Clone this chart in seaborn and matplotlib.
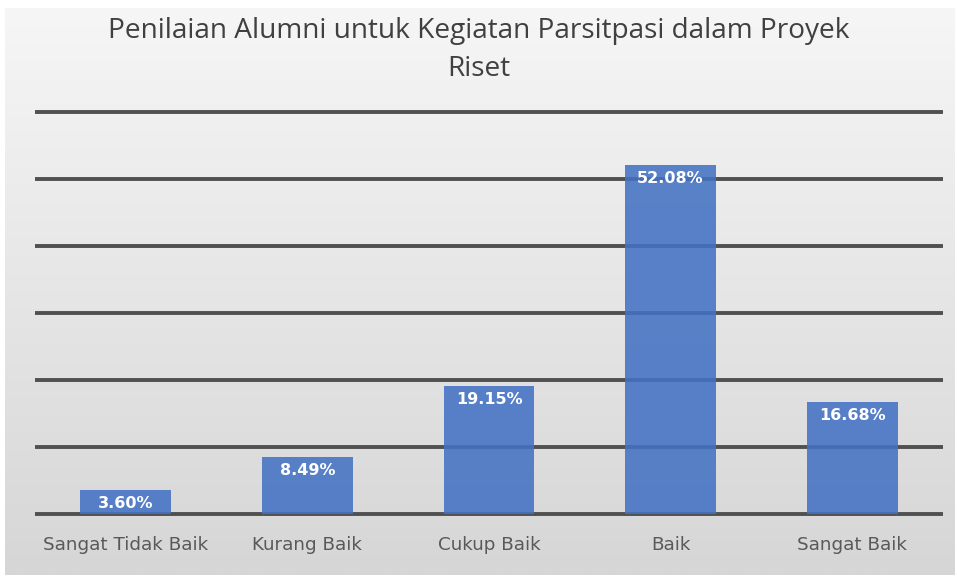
import numpy as np
import pandas as pd
import matplotlib
matplotlib.use("Agg")
import matplotlib.pyplot as plt
import seaborn as sns
from matplotlib.colors import LinearSegmentedColormap

categories = ["Sangat Tidak Baik", "Kurang Baik", "Cukup Baik", "Baik", "Sangat Baik"]
values = [3.60, 8.49, 19.15, 52.08, 16.68]
labels = ["3.60%", "8.49%", "19.15%", "52.08%", "16.68%"]
title = "Penilaian Alumni untuk Kegiatan Parsitpasi dalam Proyek\nRiset"

df = pd.DataFrame({"cat": categories, "val": values})

sns.set_style("white")
W, H = 957, 579
fig = plt.figure(figsize=(W / 100, H / 100), dpi=100, facecolor="white")

# gradient background panel
bg = fig.add_axes([5 / W, 1 - 575 / H, 950 / W, 567 / H], zorder=-5)
grad = np.linspace(0, 1, 256).reshape(-1, 1)
cmap = LinearSegmentedColormap.from_list("g", ["#f6f6f6", "#d6d6d6"])
bg.imshow(grad, aspect="auto", cmap=cmap, extent=[0, 1, 0, 1], origin="upper")
bg.set_axis_off()

ax = fig.add_axes([35 / W, 1 - 514 / H, 908 / W, 402 / H])
ax.patch.set_alpha(0)
sns.barplot(data=df, x="cat", y="val", color="#4472C4", width=0.5, ax=ax,
            saturation=1, alpha=0.88, zorder=3, edgecolor="none", linewidth=0)
ax.set_ylim(0, 60)
ax.set_xlim(-0.5, 4.5)
ax.set_yticks(np.arange(0, 61, 10))
ax.yaxis.grid(True, color="#505050", linewidth=2.8, zorder=0)
for gl in ax.get_ygridlines():
    gl.set_clip_on(False)
    gl.set_solid_capstyle("butt")
ax.set_axisbelow(True)
for s in ["top", "right", "left", "bottom"]:
    ax.spines[s].set_visible(False)
ax.set_yticklabels([])
ax.tick_params(axis="y", length=0)
ax.tick_params(axis="x", length=0, pad=16, labelsize=13.2, labelcolor="#595959")
ax.set_xlabel("")
ax.set_ylabel("")
for lbl in ax.get_xticklabels():
    lbl.set_family(["DejaVu Sans"])

for i, (v, t) in enumerate(zip(values, labels)):
    ax.text(i, v - 0.9, t, ha="center", va="top", color="white",
            fontsize=11.5, fontweight="bold", family=["DejaVu Sans"], zorder=5)

fig.text(0.5, 1 - 50 / H, title, ha="center", va="center", fontsize=20.2,
         color="#404040", family=["Open Sans", "DejaVu Sans"],
         linespacing=1.45)

fig.savefig("out.png", dpi=100, facecolor="white")
